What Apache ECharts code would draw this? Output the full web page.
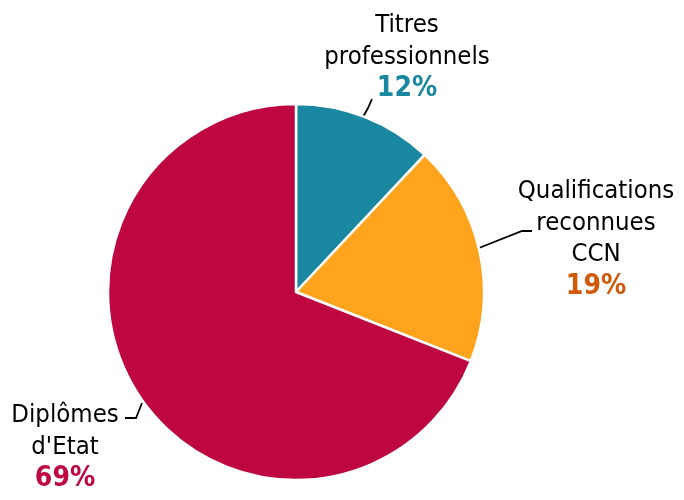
<!DOCTYPE html>
<html>
<head>
<meta charset="utf-8">
<script src="https://cdn.jsdelivr.net/npm/echarts@6/dist/echarts.min.js"></script>
<style>html,body{margin:0;padding:0;background:#fff;}#c{width:684px;height:500px;}</style>
</head>
<body>
<div id="c"></div>
<script>
const categories = ['Titres\nprofessionnels', 'Qualifications\nreconnues\nCCN', "Diplômes\nd'Etat"];
const values = [12, 19, 69];
const sliceColors = ['#1a87a0', '#ffa41c', '#be0641'];
const pctColors = ['#1a87a0', '#d05a0a', '#be0641'];

const FONT = '"DejaVu Sans Condensed", "DejaVu Sans", sans-serif';
const labelPos = [
  {x: 407, y: 57, line: [[363, 117], [368, 108], [372, 99]]},
  {x: 596, y: 239, line: [[479, 248], [522, 231], [532, 231]]},
  {x: 65, y: 447, line: [[142, 403], [136, 418], [125, 418]]}
];

const rich = {n: {fontFamily: FONT, fontSize: 25.5, color: '#000', lineHeight: 31.5, align: 'center'}};
pctColors.forEach((c, i) => {
  rich['p' + i] = {fontFamily: FONT, fontSize: 28, fontWeight: 'bold', color: c, lineHeight: 31.5, align: 'center'};
});

const data = categories.map((name, i) => ({
  name: name,
  value: values[i],
  itemStyle: {color: sliceColors[i]},
  label: {
    formatter: () => name.split('\n').map(s => '{n|' + s + '}').join('\n') + '\n{p' + i + '|' + values[i] + '%}'
  }
}));

const chart = echarts.init(document.getElementById('c'));
chart.setOption({
  animation: false,
  series: [{
    type: 'pie',
    center: [296, 292],
    radius: 188,
    startAngle: 90,
    clockwise: true,
    itemStyle: {borderColor: '#fff', borderWidth: 2.5},
    label: {show: true, position: 'outside', rich: rich, align: 'center', overflow: 'none', width: 300},
    labelLine: {show: true, lineStyle: {color: '#000', width: 1.8}},
    labelLayout: function (p) {
      const l = labelPos[p.dataIndex];
      return {x: l.x, y: l.y, align: 'center', verticalAlign: 'middle', labelLinePoints: l.line};
    },
    data: data
  }]
});
</script>
</body>
</html>
